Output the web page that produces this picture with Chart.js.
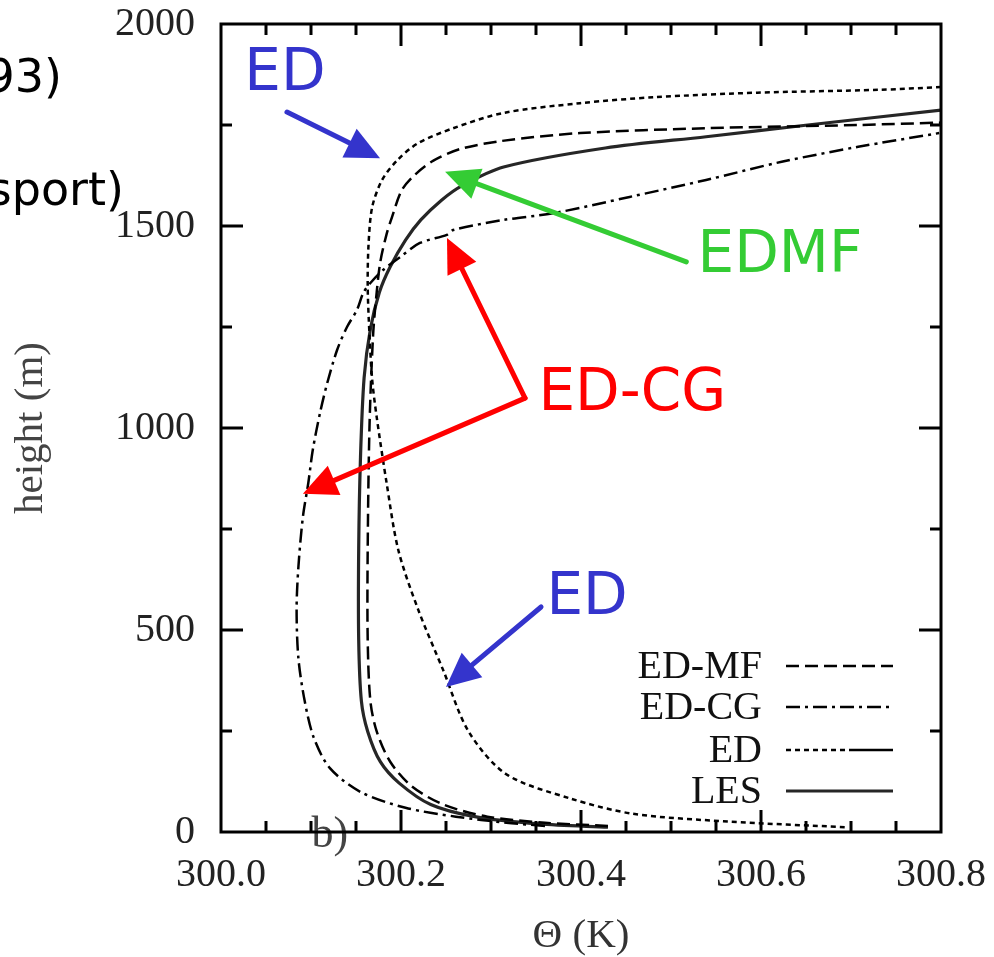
<!DOCTYPE html>
<html>
<head>
<meta charset="utf-8">
<script src="https://cdn.jsdelivr.net/npm/chart.js@4.4.1/dist/chart.umd.min.js"></script>
<style>
  html, body { margin: 0; padding: 0; background: #fff; }
  canvas { display: block; }
</style>
</head>
<body>
<canvas id="profileChart" width="994" height="957"></canvas>
<script>
// potential temperature profiles: theta (K) against height (m)
const lesHeight = [12, 20, 38, 68, 121, 174, 249, 324, 475, 702, 928, 1124, 1245, 1336, 1399, 1465, 1515, 1564, 1600, 1646, 1693, 1721, 1750, 1787];
const lesTheta = [300.43, 300.353, 300.282, 300.233, 300.198, 300.177, 300.163, 300.156, 300.153, 300.153, 300.155, 300.159, 300.166, 300.176, 300.188, 300.205, 300.222, 300.245, 300.268, 300.314, 300.427, 300.539, 300.652, 300.80];

const edmfHeight = [15, 23, 38, 68, 113, 174, 249, 324, 475, 702, 1004, 1230, 1336, 1411, 1480, 1522, 1589, 1628, 1662, 1690, 1710, 1730, 1742, 1750, 1756];
const edmfTheta = [300.43, 300.36, 300.296, 300.247, 300.212, 300.188, 300.173, 300.166, 300.163, 300.163, 300.165, 300.169, 300.173, 300.177, 300.184, 300.19, 300.201, 300.216, 300.236, 300.265, 300.31, 300.399, 300.539, 300.708, 300.80];

const edHeight = [12, 26, 45, 83, 143, 249, 400, 551, 698, 864, 1027, 1119, 1230, 1351, 1457, 1547, 1614, 1663, 1705, 1742, 1780, 1804, 1819, 1830, 1837, 1844];
const edTheta = [300.693, 300.563, 300.458, 300.388, 300.317, 300.275, 300.247, 300.219, 300.197, 300.184, 300.173, 300.168, 300.165, 300.163, 300.164, 300.168, 300.179, 300.196, 300.219, 300.258, 300.314, 300.399, 300.483, 300.596, 300.73, 300.80];

const edcgHeight = [15, 23, 38, 60, 98, 158, 234, 324, 430, 551, 656, 780, 864, 946, 1037, 1111, 1193, 1250, 1292, 1334, 1359, 1391, 1423, 1458, 1478, 1490, 1515, 1532, 1572, 1614, 1659, 1696, 1730];
const edcgTheta = [300.36, 300.317, 300.261, 300.205, 300.156, 300.121, 300.103, 300.093, 300.086, 300.084, 300.086, 300.091, 300.097, 300.102, 300.11, 300.118, 300.129, 300.14, 300.151, 300.158, 300.166, 300.18, 300.199, 300.221, 300.251, 300.258, 300.314, 300.37, 300.454, 300.539, 300.623, 300.708, 300.798];

const seriesNames = ['ED-MF', 'ED-CG', 'ED', 'LES'];
const xTickValues = [300.0, 300.2, 300.4, 300.6, 300.8];
const yTickValues = [0, 500, 1000, 1500, 2000];

// hand-drawn labels and arrows laid over the plot, anchored in data units
const notes = [
  { text: 'ED', color: '#3434cc', at: [300.0711, 1874], arrows: [[[300.0733, 1782], [300.1767, 1668]]] },
  { text: 'EDMF', color: '#34cc34', at: [300.621, 1423], arrows: [[[300.517, 1411], [300.249, 1634]]] },
  { text: 'ED-CG', color: '#ff0000', at: [300.457, 1082], arrows: [[[300.3378, 1074], [300.2511, 1470]], [[300.3378, 1074], [300.091, 837]]] },
  { text: 'ED', color: '#3434cc', at: [300.4067, 577], arrows: [[[300.3556, 557], [300.25, 359]]] },
];

const SERIF = '"Liberation Serif", "Times New Roman", serif';
const HAND = '"Comic Sans MS", "DejaVu Sans", sans-serif';

const toPoints = (th, hz) => th.map((t, i) => ({ x: t, y: hz[i] }));

function drawArrow(ctx, x1, y1, x2, y2, color) {
  const ang = Math.atan2(y2 - y1, x2 - x1);
  const headLen = 34, headHalf = 16;
  ctx.strokeStyle = color;
  ctx.fillStyle = color;
  ctx.lineWidth = 5;
  ctx.beginPath();
  ctx.moveTo(x1, y1);
  ctx.lineTo(x2 - Math.cos(ang) * headLen * 0.8, y2 - Math.sin(ang) * headLen * 0.8);
  ctx.stroke();
  ctx.beginPath();
  ctx.moveTo(x2, y2);
  ctx.lineTo(x2 - Math.cos(ang) * headLen - Math.sin(ang) * headHalf, y2 - Math.sin(ang) * headLen + Math.cos(ang) * headHalf);
  ctx.lineTo(x2 - Math.cos(ang) * headLen + Math.sin(ang) * headHalf, y2 - Math.sin(ang) * headLen - Math.cos(ang) * headHalf);
  ctx.closePath();
  ctx.fill();
}

const framePlugin = {
  id: 'frame',
  afterDatasetsDraw(chart) {
    const { ctx, chartArea: a, scales: { x, y } } = chart;
    ctx.save();

    // panel tag, sitting under the bottom axis line
    ctx.fillStyle = '#444';
    ctx.textAlign = 'center';
    ctx.textBaseline = 'alphabetic';
    ctx.font = '44px ' + SERIF;
    ctx.fillText('b)', x.getPixelForValue(300.121), a.bottom + 15);

    ctx.strokeStyle = '#000';
    ctx.lineWidth = 3;
    ctx.strokeRect(a.left, a.top, a.right - a.left, a.bottom - a.top);
    // inward ticks on all four sides
    ctx.beginPath();
    for (let i = 1; i < 16; i++) {
      const px = x.getPixelForValue(300 + i * 0.05);
      const len = i % 4 === 0 ? 22 : 11;
      ctx.moveTo(px, a.bottom); ctx.lineTo(px, a.bottom - len);
      ctx.moveTo(px, a.top); ctx.lineTo(px, a.top + len);
    }
    for (let i = 1; i < 8; i++) {
      const py = y.getPixelForValue(i * 250);
      const len = i % 2 === 0 ? 22 : 11;
      ctx.moveTo(a.left, py); ctx.lineTo(a.left + len, py);
      ctx.moveTo(a.right, py); ctx.lineTo(a.right - len, py);
    }
    ctx.stroke();

    // legend, lower right inside the frame
    const rows = [666, 707, 750, 791];
    ctx.font = '40px ' + SERIF;
    ctx.textAlign = 'right';
    ctx.textBaseline = 'middle';
    chart.data.datasets.forEach((ds, i) => {
      const ry = rows[i];
      ctx.fillStyle = '#111';
      ctx.fillText(ds.label, a.right - 179, ry + 1);
      ctx.strokeStyle = ds.borderColor;
      ctx.lineWidth = ds.borderWidth;
      ctx.setLineDash(ds.borderDash || []);
      ctx.beginPath();
      if (ds.label === 'ED') {
        ctx.moveTo(a.right - 155, ry); ctx.lineTo(a.right - 88, ry);
        ctx.stroke();
        ctx.setLineDash([]);
        ctx.beginPath();
        ctx.moveTo(a.right - 88, ry); ctx.lineTo(a.right - 48, ry);
      } else {
        ctx.moveTo(a.right - 155, ry); ctx.lineTo(a.right - 48, ry);
      }
      ctx.stroke();
      ctx.setLineDash([]);
    });

    // coloured annotations
    ctx.lineCap = 'round';
    ctx.lineJoin = 'round';
    notes.forEach(n => {
      n.arrows.forEach(([from, to]) => {
        drawArrow(ctx, x.getPixelForValue(from[0]), y.getPixelForValue(from[1]),
          x.getPixelForValue(to[0]), y.getPixelForValue(to[1]), n.color);
      });
      ctx.fillStyle = n.color;
      ctx.font = '58px ' + HAND;
      ctx.textAlign = 'center';
      ctx.textBaseline = 'middle';
      ctx.fillText(n.text, x.getPixelForValue(n.at[0]), y.getPixelForValue(n.at[1]));
    });

    // slide text cut off at the left edge
    ctx.fillStyle = '#000';
    ctx.font = '46px ' + HAND;
    ctx.textAlign = 'right';
    ctx.textBaseline = 'alphabetic';
    ctx.fillText('1993)', 62, 92);
    ctx.fillText('transport)', 124, 205);
    ctx.restore();
  }
};

new Chart(document.getElementById('profileChart'), {
  type: 'scatter',
  data: {
    datasets: [
      { label: seriesNames[0], data: toPoints(edmfTheta, edmfHeight), borderColor: '#000', borderWidth: 2.5, borderDash: [13, 6] },
      { label: seriesNames[1], data: toPoints(edcgTheta, edcgHeight), borderColor: '#000', borderWidth: 2.5, borderDash: [14, 5, 3, 5] },
      { label: seriesNames[2], data: toPoints(edTheta, edHeight), borderColor: '#000', borderWidth: 2.5, borderDash: [5, 4] },
      { label: seriesNames[3], data: toPoints(lesTheta, lesHeight), borderColor: '#262626', borderWidth: 3.2 },
    ].map(ds => Object.assign(ds, { showLine: true, pointRadius: 0, tension: 0.3, fill: false }))
  },
  options: {
    responsive: false,
    animation: false,
    devicePixelRatio: 1,
    layout: { padding: { top: 24, right: 53, left: 0, bottom: 0 } },
    plugins: { legend: { display: false }, tooltip: { enabled: false } },
    scales: {
      x: {
        type: 'linear', min: 300, max: 300.8,
        afterBuildTicks: s => { s.ticks = xTickValues.map(v => ({ value: v })); },
        afterFit: s => { s.height = 125; s.paddingLeft = 0; s.paddingRight = 0; },
        grid: { display: false, drawTicks: false },
        border: { display: false },
        ticks: { color: '#222', font: { family: SERIF, size: 40 }, padding: 19, maxRotation: 0, autoSkip: false, callback: v => v.toFixed(1) },
        title: { display: true, text: 'Θ (K)', color: '#333', font: { family: SERIF, size: 41, lineHeight: 1 }, padding: { top: 0, bottom: 0 } }
      },
      y: {
        type: 'linear', min: 0, max: 2000,
        afterBuildTicks: s => { s.ticks = yTickValues.map(v => ({ value: v })); },
        afterFit: s => { s.width = 221; s.paddingTop = 0; s.paddingBottom = 0; },
        grid: { display: false, drawTicks: false },
        border: { display: false },
        ticks: { color: '#222', font: { family: SERIF, size: 40 }, padding: 26, autoSkip: false, callback: v => String(v) },
        title: { display: true, text: 'height (m)', color: '#444', font: { family: SERIF, size: 41, lineHeight: 1 }, padding: { top: 11, bottom: 0 } }
      }
    }
  },
  plugins: [framePlugin]
});
</script>
</body>
</html>
